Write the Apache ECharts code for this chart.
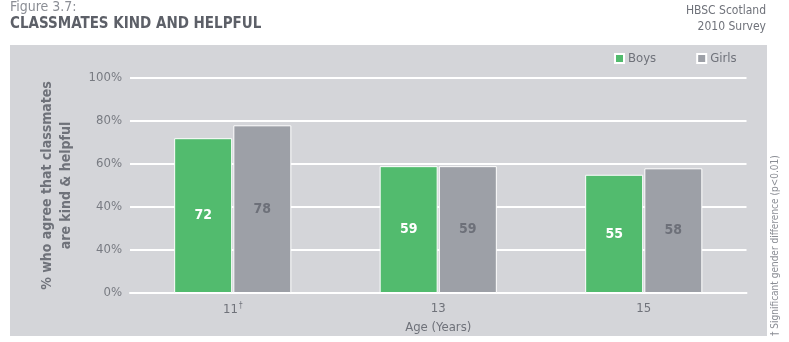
<!DOCTYPE html>
<html><head><meta charset="utf-8">
<script src="https://cdn.jsdelivr.net/npm/echarts@6/dist/echarts.min.js"></script>
<style>html,body{margin:0;padding:0;background:#fff}#c{width:789px;height:342px}</style>
</head><body><div id="c"></div>
<script>
const categories = ['11', '13', '15'];
const categorySup = ['†', '', ''];
const boys = [72, 59, 55];
const girls = [78, 59, 58];
const yTickLabels = ['0%', '40%', '40%', '60%', '80%', '100%'];

const FONT = '"DejaVu Sans Condensed", "Liberation Sans Narrow", sans-serif';
const chart = echarts.init(document.getElementById('c'), null, {renderer: 'canvas'});
chart.setOption({
  animation: false,
  textStyle: {fontFamily: FONT},
  graphic: [
    {type: 'rect', z: -10, shape: {x: 10, y: 45, width: 757, height: 291}, style: {fill: '#d4d5d9'}},
    {type: 'text', x: 10, y: 0, style: {text: 'Figure 3.7:', font: '14px ' + FONT, fill: '#8b8e95'}},
    {type: 'text', x: 10, y: 17, style: {text: 'CLASSMATES KIND AND HELPFUL', font: 'bold 15px ' + FONT, fill: '#5d6068'}},
    {type: 'text', x: 766, y: 5, style: {text: 'HBSC Scotland', font: '12px ' + FONT, fill: '#6f727a', align: 'right'}},
    {type: 'text', x: 766, y: 21, style: {text: '2010 Survey', font: '12px ' + FONT, fill: '#6f727a', align: 'right'}},
    {type: 'text', x: 770, y: 336, rotation: Math.PI / 2, style: {text: '† Significant gender difference (p<0.01)', font: '10px ' + FONT, fill: '#8b8e95', verticalAlign: 'top'}}
  ],
  legend: {
    data: ['Boys', 'Girls'],
    left: 614, top: 52, padding: 0,
    itemWidth: 9, itemHeight: 9, itemGap: 40,
    icon: 'rect',
    textStyle: {fontSize: 13, color: '#6f727a', fontFamily: FONT, padding: [0, 0, 0, -1]}
  },
  grid: {left: 130, right: 42.5, top: 78, bottom: 49},
  xAxis: {
    type: 'category',
    data: categories,
    name: 'Age (Years)',
    nameLocation: 'middle',
    nameGap: 25,
    nameTextStyle: {fontSize: 13, color: '#6f727a', fontFamily: FONT},
    axisLine: {show: true, lineStyle: {color: '#ffffff', width: 2}},
    axisTick: {show: false},
    axisLabel: {
      margin: 9,
      color: '#6f727a', fontSize: 13,
      formatter: (v, i) => categorySup[i] ? v + '{s|' + categorySup[i] + '}' : v,
      rich: {s: {fontSize: 8, color: '#6f727a', verticalAlign: 'top', padding: [0, 0, 8, 1]}}
    }
  },
  yAxis: {
    type: 'value', min: 0, max: 100, interval: 20,
    name: '% who agree that classmates\nare kind & helpful',
    nameLocation: 'middle', nameRotate: 90, nameGap: 54,
    nameTextStyle: {fontSize: 14, fontWeight: 'bold', color: '#6f727a', lineHeight: 19, fontFamily: FONT},
    axisLine: {show: false}, axisTick: {show: false},
    axisLabel: {margin: 8, color: '#787b82', fontSize: 13, formatter: (v) => yTickLabels[Math.round(v / 20)]},
    splitLine: {lineStyle: {color: '#ffffff', width: 2}}
  },
  series: [
    {name: 'Boys', type: 'bar', data: boys, barWidth: 58, barGap: '2%',
     itemStyle: {color: '#52bb6e', borderColor: '#ffffff', borderWidth: 1},
     label: {show: true, position: 'inside', color: '#ffffff', fontWeight: 'bold', fontSize: 14, fontFamily: FONT}},
    {name: 'Girls', type: 'bar', data: girls, barWidth: 58,
     itemStyle: {color: '#9da0a7', borderColor: '#ffffff', borderWidth: 1},
     label: {show: true, position: 'inside', color: '#6d7079', fontWeight: 'bold', fontSize: 14, fontFamily: FONT}}
  ]
});
</script></body></html>
